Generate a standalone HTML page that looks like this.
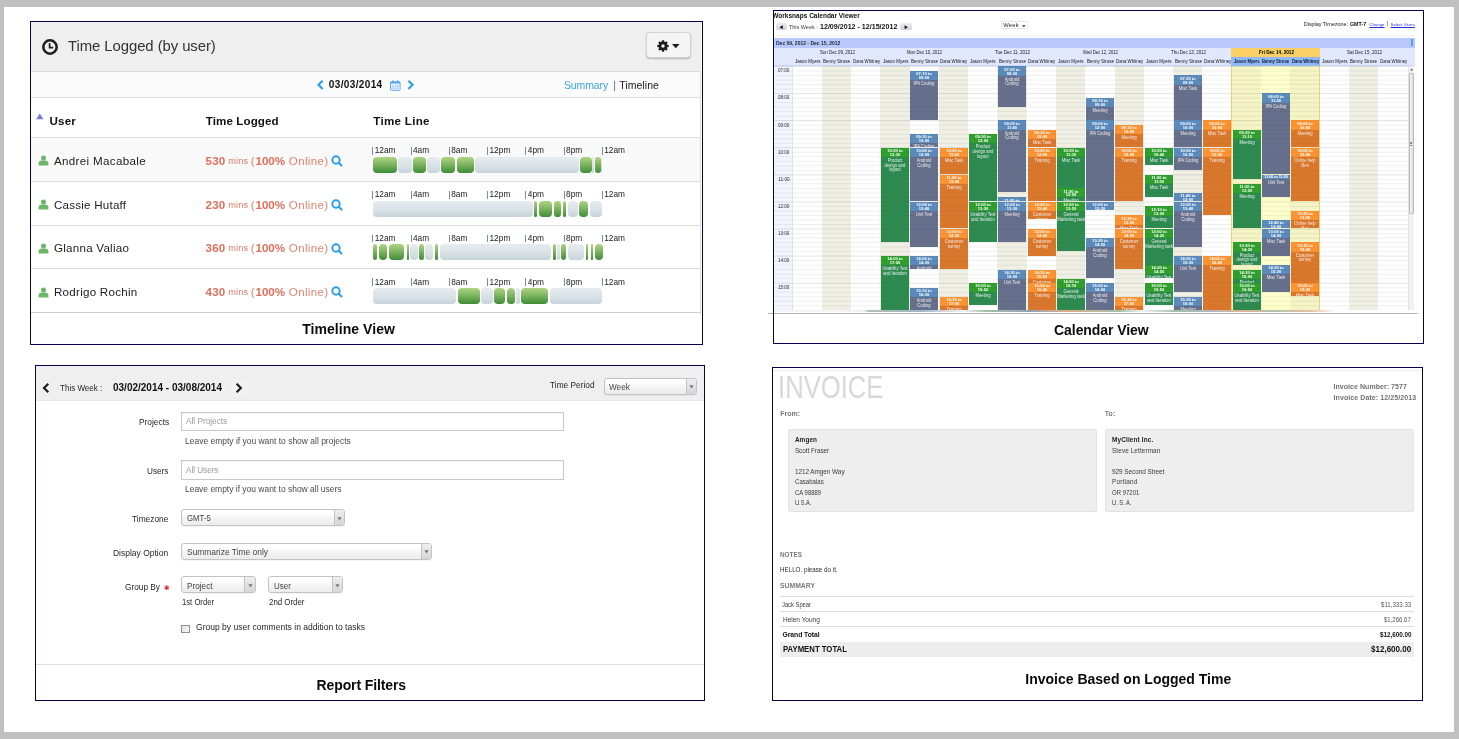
<!DOCTYPE html>
<html lang="en"><head><meta charset="utf-8"><title>Worksnaps views</title>
<style>
html,body{margin:0;padding:0}
body{background:#c0c0c0;width:1459px;height:739px;overflow:hidden;position:relative;font-family:"Liberation Sans", sans-serif}
#root{position:absolute;left:0;top:0;width:1459px;height:739px;overflow:hidden}
#root div,#root svg,#root span.t{position:absolute}
span.t{white-space:nowrap;line-height:1;display:block}
.ev{overflow:hidden}
#root .ev .in{left:0;top:0;width:30.3px;transform:scaleX(.924);transform-origin:0 0}
.ev b,.ev i{display:block;position:static;font-style:normal;text-align:center;color:#fff;line-height:1}
</style></head>
<body><div id="root">
<div style="left:4px;top:7px;width:1450px;height:725px;background:#fff"></div>
<div style="left:31px;top:22px;width:670px;height:49px;background:#efefef"></div>
<div style="left:31px;top:71px;width:670px;height:1px;background:#dcdcdc"></div>
<div style="left:31px;top:72px;width:670px;height:25px;background:#fbfbfb"></div>
<div style="left:31px;top:97px;width:670px;height:1px;background:#dedede"></div>
<div style="left:700px;top:72px;width:1px;height:242px;background:#dedede"></div>
<svg style="left:41px;top:38px;" width="18" height="18" viewBox="0 0 18 18"><circle cx="9" cy="9" r="6.7" fill="none" stroke="#1d1d1d" stroke-width="2.5"/><path d="M8.6 5v4.6h3.6" fill="none" stroke="#1d1d1d" stroke-width="1.7"/></svg>
<span class="t" style="top:39px;font-size:14.9px;color:#333;letter-spacing:-0.08px;left:68.1px;">Time Logged (by user)</span>
<div style="left:646px;top:32px;width:44.7px;height:26.3px;box-sizing:border-box;border:1px solid #d4d4d4;border-radius:4px;background:#f5f5f5;box-shadow:0 1px 1.5px rgba(0,0,0,.25)"></div>
<svg style="left:656.7px;top:39.7px;" width="12" height="12" viewBox="0 0 12 12"><g transform="translate(6 6)" fill="#1d1d1d"><rect x="-1.15" y="-5.7" width="2.3" height="3" transform="rotate(0)"/><rect x="-1.15" y="-5.7" width="2.3" height="3" transform="rotate(45)"/><rect x="-1.15" y="-5.7" width="2.3" height="3" transform="rotate(90)"/><rect x="-1.15" y="-5.7" width="2.3" height="3" transform="rotate(135)"/><rect x="-1.15" y="-5.7" width="2.3" height="3" transform="rotate(180)"/><rect x="-1.15" y="-5.7" width="2.3" height="3" transform="rotate(225)"/><rect x="-1.15" y="-5.7" width="2.3" height="3" transform="rotate(270)"/><rect x="-1.15" y="-5.7" width="2.3" height="3" transform="rotate(315)"/></g><circle cx="6" cy="6" r="3.05" fill="none" stroke="#1d1d1d" stroke-width="2.7"/></svg>
<svg style="left:671.5px;top:43.8px;" width="8" height="5" viewBox="0 0 8 5"><path d="M0 0h7.6L3.8 4.2z" fill="#1d1d1d"/></svg>
<svg style="left:316px;top:79px;" width="9" height="12" viewBox="0 0 9 12"><path d="M6.6 1.7L2.5 5.8l4.1 4.1" fill="none" stroke="#2a9fea" stroke-width="2.15"/></svg>
<span class="t" style="top:80px;font-size:10px;color:#111;font-weight:700;letter-spacing:0.37px;left:328.8px;">03/03/2014</span>
<svg style="left:390px;top:79.5px;" width="11" height="11" viewBox="0 0 11 11"><rect x="0.5" y="1.8" width="9.6" height="8.6" rx="1.2" fill="#f6faff" stroke="#4fa4f3" stroke-width=".9"/><rect x="0.5" y="1.8" width="9.6" height="1.7" fill="#4fa4f3"/><path d="M1 6.1h8.6M1 8.1h8.6M3.1 4.2v6M5.3 4.2v6M7.5 4.2v6" stroke="#9ccbf8" stroke-width=".7"/><rect x="2.2" y="0.2" width="1.6" height="2.8" rx=".7" fill="#4fa4f3"/><rect x="6.8" y="0.2" width="1.6" height="2.8" rx=".7" fill="#4fa4f3"/></svg>
<svg style="left:406px;top:79px;" width="9" height="12" viewBox="0 0 9 12"><path d="M2.4 1.7l4.1 4.1-4.1 4.1" fill="none" stroke="#2a9fea" stroke-width="2.15"/></svg>
<span class="t" style="top:80px;font-size:10.5px;color:#3ba3e6;letter-spacing:-0.11px;left:563.9px;">Summary</span>
<span class="t" style="top:80px;font-size:10.5px;color:#4a6f9a;left:613.2px;">|</span>
<span class="t" style="top:80px;font-size:10.5px;color:#1a1a1a;letter-spacing:0.06px;left:619.2px;">Timeline</span>
<svg style="left:36px;top:113px;" width="8" height="7" viewBox="0 0 8 7"><path d="M3.8 .4L7.5 6.2H.1z" fill="#7a7adb"/></svg>
<span class="t" style="top:115px;font-size:11.6px;color:#111;font-weight:700;letter-spacing:0.14px;left:49.6px;">User</span>
<span class="t" style="top:115px;font-size:11.6px;color:#111;font-weight:700;letter-spacing:0.09px;left:205.8px;">Time Logged</span>
<span class="t" style="top:115px;font-size:11.6px;color:#111;font-weight:700;letter-spacing:0.29px;left:373.3px;">Time Line</span>
<div style="left:31px;top:137px;width:670px;height:1px;background:#dcdcdc"></div>
<div style="left:31px;top:137.8px;width:669px;height:43.2px;background:#f9f9f9"></div>
<div style="left:31px;top:180.7px;width:670px;height:1px;background:#dcdcdc"></div>
<svg style="left:37.5px;top:155.3px;" width="11" height="11" viewBox="0 0 11 11"><circle cx="5.5" cy="3" r="2.5" fill="#6ab76a"/><path d="M.6 10.4V8.2c0-1.6 1.5-2.6 3-2.6h3.8c1.5 0 3 1 3 2.6v2.2z" fill="#6ab76a"/></svg>
<span class="t" style="top:155px;font-size:11.6px;color:#1c1c1c;letter-spacing:0.33px;left:54px;">Andrei Macabale</span>
<span class="t" style="top:155px;font-size:11.6px;color:#df6f5a;font-weight:700;letter-spacing:0.23px;left:205.5px;">530</span>
<span class="t" style="top:157px;font-size:9.2px;color:#e07b69;letter-spacing:0.13px;left:228.2px;">mins</span>
<span class="t" style="top:155px;font-size:11.6px;color:#e07b69;left:250.8px;">(</span>
<span class="t" style="top:155px;font-size:11.6px;color:#df6f5a;font-weight:700;letter-spacing:-0.09px;left:255.6px;">100%</span>
<span class="t" style="top:155px;font-size:11.6px;color:#e5836f;letter-spacing:0.34px;left:288.8px;">Online)</span>
<svg style="left:331.3px;top:155px;" width="12" height="12" viewBox="0 0 12 12"><circle cx="5" cy="5" r="3.7" fill="none" stroke="#2a9fea" stroke-width="1.9"/><path d="M7.9 7.9l2.6 2.6" stroke="#2a9fea" stroke-width="2.1" stroke-linecap="round"/></svg>
<div style="left:372.4px;top:147px;width:0.9px;height:7.8px;background:#7d8d98"></div>
<span class="t" style="top:146px;font-size:8.3px;color:#1a1a1a;letter-spacing:0.01px;left:374.7px;">12am</span>
<div style="left:410.65px;top:147px;width:0.9px;height:7.8px;background:#7d8d98"></div>
<span class="t" style="top:146px;font-size:8.3px;color:#1a1a1a;letter-spacing:0.03px;left:412.95px;">4am</span>
<div style="left:448.9px;top:147px;width:0.9px;height:7.8px;background:#7d8d98"></div>
<span class="t" style="top:146px;font-size:8.3px;color:#1a1a1a;letter-spacing:0.03px;left:451.2px;">8am</span>
<div style="left:487.15px;top:147px;width:0.9px;height:7.8px;background:#7d8d98"></div>
<span class="t" style="top:146px;font-size:8.3px;color:#1a1a1a;letter-spacing:0.04px;left:489.45px;">12pm</span>
<div style="left:525.4px;top:147px;width:0.9px;height:7.8px;background:#7d8d98"></div>
<span class="t" style="top:146px;font-size:8.3px;color:#1a1a1a;letter-spacing:0.08px;left:527.7px;">4pm</span>
<div style="left:563.65px;top:147px;width:0.9px;height:7.8px;background:#7d8d98"></div>
<span class="t" style="top:146px;font-size:8.3px;color:#1a1a1a;letter-spacing:0.08px;left:565.95px;">8pm</span>
<div style="left:601.9px;top:147px;width:0.9px;height:7.8px;background:#7d8d98"></div>
<span class="t" style="top:146px;font-size:8.3px;color:#1a1a1a;letter-spacing:0.01px;left:604.2px;">12am</span>
<div style="left:373px;top:156.8px;width:23.5px;height:16px;border-radius:4px;background:linear-gradient(#aed382,#7fb662 45%,#3d8c35)"></div>
<div style="left:397.5px;top:156.8px;width:14.5px;height:16px;border-radius:4px;background:linear-gradient(#e6ebee,#dbe3e8 50%,#c6d3da)"></div>
<div style="left:413px;top:156.8px;width:12.6px;height:16px;border-radius:4px;background:linear-gradient(#aed382,#7fb662 45%,#3d8c35)"></div>
<div style="left:426.6px;top:156.8px;width:13.4px;height:16px;border-radius:4px;background:linear-gradient(#e6ebee,#dbe3e8 50%,#c6d3da)"></div>
<div style="left:441px;top:156.8px;width:14.2px;height:16px;border-radius:4px;background:linear-gradient(#aed382,#7fb662 45%,#3d8c35)"></div>
<div style="left:457.4px;top:156.8px;width:16.6px;height:16px;border-radius:4px;background:linear-gradient(#aed382,#7fb662 45%,#3d8c35)"></div>
<div style="left:475px;top:156.8px;width:104.3px;height:16px;border-radius:4px;background:linear-gradient(#e6ebee,#dbe3e8 50%,#c6d3da)"></div>
<div style="left:580.3px;top:156.8px;width:11.5px;height:16px;border-radius:4px;background:linear-gradient(#aed382,#7fb662 45%,#3d8c35)"></div>
<div style="left:592.4px;top:156.8px;width:1.8px;height:16px;border-radius:0.9px;background:linear-gradient(#e6ebee,#dbe3e8 50%,#c6d3da)"></div>
<div style="left:594.8px;top:156.8px;width:6px;height:16px;border-radius:3px;background:linear-gradient(#aed382,#7fb662 45%,#3d8c35)"></div>
<div style="left:601px;top:156.8px;width:1.3px;height:16px;border-radius:0.65px;background:linear-gradient(#e6ebee,#dbe3e8 50%,#c6d3da)"></div>
<div style="left:31px;top:224.5px;width:670px;height:1px;background:#dcdcdc"></div>
<svg style="left:37.5px;top:199.1px;" width="11" height="11" viewBox="0 0 11 11"><circle cx="5.5" cy="3" r="2.5" fill="#6ab76a"/><path d="M.6 10.4V8.2c0-1.6 1.5-2.6 3-2.6h3.8c1.5 0 3 1 3 2.6v2.2z" fill="#6ab76a"/></svg>
<span class="t" style="top:199px;font-size:11.6px;color:#1c1c1c;letter-spacing:0.22px;left:54px;">Cassie Hutaff</span>
<span class="t" style="top:199px;font-size:11.6px;color:#df6f5a;font-weight:700;letter-spacing:0.23px;left:205.5px;">230</span>
<span class="t" style="top:201px;font-size:9.2px;color:#e07b69;letter-spacing:0.13px;left:228.2px;">mins</span>
<span class="t" style="top:199px;font-size:11.6px;color:#e07b69;left:250.8px;">(</span>
<span class="t" style="top:199px;font-size:11.6px;color:#df6f5a;font-weight:700;letter-spacing:-0.09px;left:255.6px;">100%</span>
<span class="t" style="top:199px;font-size:11.6px;color:#e5836f;letter-spacing:0.34px;left:288.8px;">Online)</span>
<svg style="left:331.3px;top:198.8px;" width="12" height="12" viewBox="0 0 12 12"><circle cx="5" cy="5" r="3.7" fill="none" stroke="#2a9fea" stroke-width="1.9"/><path d="M7.9 7.9l2.6 2.6" stroke="#2a9fea" stroke-width="2.1" stroke-linecap="round"/></svg>
<div style="left:372.4px;top:190.8px;width:0.9px;height:7.8px;background:#7d8d98"></div>
<span class="t" style="top:190px;font-size:8.3px;color:#1a1a1a;letter-spacing:0.01px;left:374.7px;">12am</span>
<div style="left:410.65px;top:190.8px;width:0.9px;height:7.8px;background:#7d8d98"></div>
<span class="t" style="top:190px;font-size:8.3px;color:#1a1a1a;letter-spacing:0.03px;left:412.95px;">4am</span>
<div style="left:448.9px;top:190.8px;width:0.9px;height:7.8px;background:#7d8d98"></div>
<span class="t" style="top:190px;font-size:8.3px;color:#1a1a1a;letter-spacing:0.03px;left:451.2px;">8am</span>
<div style="left:487.15px;top:190.8px;width:0.9px;height:7.8px;background:#7d8d98"></div>
<span class="t" style="top:190px;font-size:8.3px;color:#1a1a1a;letter-spacing:0.04px;left:489.45px;">12pm</span>
<div style="left:525.4px;top:190.8px;width:0.9px;height:7.8px;background:#7d8d98"></div>
<span class="t" style="top:190px;font-size:8.3px;color:#1a1a1a;letter-spacing:0.08px;left:527.7px;">4pm</span>
<div style="left:563.65px;top:190.8px;width:0.9px;height:7.8px;background:#7d8d98"></div>
<span class="t" style="top:190px;font-size:8.3px;color:#1a1a1a;letter-spacing:0.08px;left:565.95px;">8pm</span>
<div style="left:601.9px;top:190.8px;width:0.9px;height:7.8px;background:#7d8d98"></div>
<span class="t" style="top:190px;font-size:8.3px;color:#1a1a1a;letter-spacing:0.01px;left:604.2px;">12am</span>
<div style="left:373px;top:200.6px;width:159.6px;height:16px;border-radius:4px;background:linear-gradient(#e6ebee,#dbe3e8 50%,#c6d3da)"></div>
<div style="left:534px;top:200.6px;width:3.2px;height:16px;border-radius:1.6px;background:linear-gradient(#aed382,#7fb662 45%,#3d8c35)"></div>
<div style="left:539px;top:200.6px;width:12.5px;height:16px;border-radius:4px;background:linear-gradient(#aed382,#7fb662 45%,#3d8c35)"></div>
<div style="left:554px;top:200.6px;width:6.7px;height:16px;border-radius:3.35px;background:linear-gradient(#aed382,#7fb662 45%,#3d8c35)"></div>
<div style="left:562.7px;top:200.6px;width:3.3px;height:16px;border-radius:1.65px;background:linear-gradient(#aed382,#7fb662 45%,#3d8c35)"></div>
<div style="left:567.8px;top:200.6px;width:10px;height:16px;border-radius:4px;background:linear-gradient(#e6ebee,#dbe3e8 50%,#c6d3da)"></div>
<div style="left:579px;top:200.6px;width:8.8px;height:16px;border-radius:4px;background:linear-gradient(#aed382,#7fb662 45%,#3d8c35)"></div>
<div style="left:589.5px;top:200.6px;width:12.8px;height:16px;border-radius:4px;background:linear-gradient(#e6ebee,#dbe3e8 50%,#c6d3da)"></div>
<div style="left:31px;top:268.3px;width:670px;height:1px;background:#dcdcdc"></div>
<svg style="left:37.5px;top:242.9px;" width="11" height="11" viewBox="0 0 11 11"><circle cx="5.5" cy="3" r="2.5" fill="#6ab76a"/><path d="M.6 10.4V8.2c0-1.6 1.5-2.6 3-2.6h3.8c1.5 0 3 1 3 2.6v2.2z" fill="#6ab76a"/></svg>
<span class="t" style="top:242px;font-size:11.6px;color:#1c1c1c;letter-spacing:0.24px;left:54px;">Glanna Valiao</span>
<span class="t" style="top:242px;font-size:11.6px;color:#df6f5a;font-weight:700;letter-spacing:0.23px;left:205.5px;">360</span>
<span class="t" style="top:244px;font-size:9.2px;color:#e07b69;letter-spacing:0.13px;left:228.2px;">mins</span>
<span class="t" style="top:242px;font-size:11.6px;color:#e07b69;left:250.8px;">(</span>
<span class="t" style="top:242px;font-size:11.6px;color:#df6f5a;font-weight:700;letter-spacing:-0.09px;left:255.6px;">100%</span>
<span class="t" style="top:242px;font-size:11.6px;color:#e5836f;letter-spacing:0.34px;left:288.8px;">Online)</span>
<svg style="left:331.3px;top:242.6px;" width="12" height="12" viewBox="0 0 12 12"><circle cx="5" cy="5" r="3.7" fill="none" stroke="#2a9fea" stroke-width="1.9"/><path d="M7.9 7.9l2.6 2.6" stroke="#2a9fea" stroke-width="2.1" stroke-linecap="round"/></svg>
<div style="left:372.4px;top:234.6px;width:0.9px;height:7.8px;background:#7d8d98"></div>
<span class="t" style="top:234px;font-size:8.3px;color:#1a1a1a;letter-spacing:0.01px;left:374.7px;">12am</span>
<div style="left:410.65px;top:234.6px;width:0.9px;height:7.8px;background:#7d8d98"></div>
<span class="t" style="top:234px;font-size:8.3px;color:#1a1a1a;letter-spacing:0.03px;left:412.95px;">4am</span>
<div style="left:448.9px;top:234.6px;width:0.9px;height:7.8px;background:#7d8d98"></div>
<span class="t" style="top:234px;font-size:8.3px;color:#1a1a1a;letter-spacing:0.03px;left:451.2px;">8am</span>
<div style="left:487.15px;top:234.6px;width:0.9px;height:7.8px;background:#7d8d98"></div>
<span class="t" style="top:234px;font-size:8.3px;color:#1a1a1a;letter-spacing:0.04px;left:489.45px;">12pm</span>
<div style="left:525.4px;top:234.6px;width:0.9px;height:7.8px;background:#7d8d98"></div>
<span class="t" style="top:234px;font-size:8.3px;color:#1a1a1a;letter-spacing:0.08px;left:527.7px;">4pm</span>
<div style="left:563.65px;top:234.6px;width:0.9px;height:7.8px;background:#7d8d98"></div>
<span class="t" style="top:234px;font-size:8.3px;color:#1a1a1a;letter-spacing:0.08px;left:565.95px;">8pm</span>
<div style="left:601.9px;top:234.6px;width:0.9px;height:7.8px;background:#7d8d98"></div>
<span class="t" style="top:234px;font-size:8.3px;color:#1a1a1a;letter-spacing:0.01px;left:604.2px;">12am</span>
<div style="left:373px;top:244.4px;width:4px;height:16px;border-radius:2px;background:linear-gradient(#aed382,#7fb662 45%,#3d8c35)"></div>
<div style="left:378.8px;top:244.4px;width:8.2px;height:16px;border-radius:4px;background:linear-gradient(#aed382,#7fb662 45%,#3d8c35)"></div>
<div style="left:388.8px;top:244.4px;width:15.7px;height:16px;border-radius:4px;background:linear-gradient(#aed382,#7fb662 45%,#3d8c35)"></div>
<div style="left:407px;top:244.4px;width:2px;height:16px;border-radius:1px;background:linear-gradient(#aed382,#7fb662 45%,#3d8c35)"></div>
<div style="left:410px;top:244.4px;width:7.6px;height:16px;border-radius:3.8px;background:linear-gradient(#e6ebee,#dbe3e8 50%,#c6d3da)"></div>
<div style="left:419.3px;top:244.4px;width:4.5px;height:16px;border-radius:2.25px;background:linear-gradient(#aed382,#7fb662 45%,#3d8c35)"></div>
<div style="left:425px;top:244.4px;width:8px;height:16px;border-radius:4px;background:linear-gradient(#e6ebee,#dbe3e8 50%,#c6d3da)"></div>
<div style="left:434.6px;top:244.4px;width:3.4px;height:16px;border-radius:1.7px;background:linear-gradient(#aed382,#7fb662 45%,#3d8c35)"></div>
<div style="left:439.6px;top:244.4px;width:111.9px;height:16px;border-radius:4px;background:linear-gradient(#e6ebee,#dbe3e8 50%,#c6d3da)"></div>
<div style="left:552.7px;top:244.4px;width:3.8px;height:16px;border-radius:1.9px;background:linear-gradient(#aed382,#7fb662 45%,#3d8c35)"></div>
<div style="left:557.3px;top:244.4px;width:2.9px;height:16px;border-radius:1.45px;background:linear-gradient(#e6ebee,#dbe3e8 50%,#c6d3da)"></div>
<div style="left:561px;top:244.4px;width:4.8px;height:16px;border-radius:2.4px;background:linear-gradient(#aed382,#7fb662 45%,#3d8c35)"></div>
<div style="left:567.8px;top:244.4px;width:16.7px;height:16px;border-radius:4px;background:linear-gradient(#e6ebee,#dbe3e8 50%,#c6d3da)"></div>
<div style="left:586.3px;top:244.4px;width:2px;height:16px;border-radius:1px;background:linear-gradient(#aed382,#7fb662 45%,#3d8c35)"></div>
<div style="left:591.3px;top:244.4px;width:1.5px;height:16px;border-radius:0.75px;background:linear-gradient(#aed382,#7fb662 45%,#3d8c35)"></div>
<div style="left:594.8px;top:244.4px;width:8px;height:16px;border-radius:4px;background:linear-gradient(#aed382,#7fb662 45%,#3d8c35)"></div>
<div style="left:31px;top:312.1px;width:670px;height:1px;background:#cfcfcf"></div>
<svg style="left:37.5px;top:286.7px;" width="11" height="11" viewBox="0 0 11 11"><circle cx="5.5" cy="3" r="2.5" fill="#6ab76a"/><path d="M.6 10.4V8.2c0-1.6 1.5-2.6 3-2.6h3.8c1.5 0 3 1 3 2.6v2.2z" fill="#6ab76a"/></svg>
<span class="t" style="top:286px;font-size:11.6px;color:#1c1c1c;letter-spacing:0.25px;left:54px;">Rodrigo Rochin</span>
<span class="t" style="top:286px;font-size:11.6px;color:#df6f5a;font-weight:700;letter-spacing:0.23px;left:205.5px;">430</span>
<span class="t" style="top:288px;font-size:9.2px;color:#e07b69;letter-spacing:0.13px;left:228.2px;">mins</span>
<span class="t" style="top:286px;font-size:11.6px;color:#e07b69;left:250.8px;">(</span>
<span class="t" style="top:286px;font-size:11.6px;color:#df6f5a;font-weight:700;letter-spacing:-0.09px;left:255.6px;">100%</span>
<span class="t" style="top:286px;font-size:11.6px;color:#e5836f;letter-spacing:0.34px;left:288.8px;">Online)</span>
<svg style="left:331.3px;top:286.4px;" width="12" height="12" viewBox="0 0 12 12"><circle cx="5" cy="5" r="3.7" fill="none" stroke="#2a9fea" stroke-width="1.9"/><path d="M7.9 7.9l2.6 2.6" stroke="#2a9fea" stroke-width="2.1" stroke-linecap="round"/></svg>
<div style="left:372.4px;top:278.4px;width:0.9px;height:7.8px;background:#7d8d98"></div>
<span class="t" style="top:278px;font-size:8.3px;color:#1a1a1a;letter-spacing:0.01px;left:374.7px;">12am</span>
<div style="left:410.65px;top:278.4px;width:0.9px;height:7.8px;background:#7d8d98"></div>
<span class="t" style="top:278px;font-size:8.3px;color:#1a1a1a;letter-spacing:0.03px;left:412.95px;">4am</span>
<div style="left:448.9px;top:278.4px;width:0.9px;height:7.8px;background:#7d8d98"></div>
<span class="t" style="top:278px;font-size:8.3px;color:#1a1a1a;letter-spacing:0.03px;left:451.2px;">8am</span>
<div style="left:487.15px;top:278.4px;width:0.9px;height:7.8px;background:#7d8d98"></div>
<span class="t" style="top:278px;font-size:8.3px;color:#1a1a1a;letter-spacing:0.04px;left:489.45px;">12pm</span>
<div style="left:525.4px;top:278.4px;width:0.9px;height:7.8px;background:#7d8d98"></div>
<span class="t" style="top:278px;font-size:8.3px;color:#1a1a1a;letter-spacing:0.08px;left:527.7px;">4pm</span>
<div style="left:563.65px;top:278.4px;width:0.9px;height:7.8px;background:#7d8d98"></div>
<span class="t" style="top:278px;font-size:8.3px;color:#1a1a1a;letter-spacing:0.08px;left:565.95px;">8pm</span>
<div style="left:601.9px;top:278.4px;width:0.9px;height:7.8px;background:#7d8d98"></div>
<span class="t" style="top:278px;font-size:8.3px;color:#1a1a1a;letter-spacing:0.01px;left:604.2px;">12am</span>
<div style="left:373px;top:288.2px;width:83.4px;height:16px;border-radius:4px;background:linear-gradient(#e6ebee,#dbe3e8 50%,#c6d3da)"></div>
<div style="left:457.6px;top:288.2px;width:22.4px;height:16px;border-radius:4px;background:linear-gradient(#aed382,#7fb662 45%,#3d8c35)"></div>
<div style="left:481.4px;top:288.2px;width:11.3px;height:16px;border-radius:4px;background:linear-gradient(#e6ebee,#dbe3e8 50%,#c6d3da)"></div>
<div style="left:494px;top:288.2px;width:11px;height:16px;border-radius:4px;background:linear-gradient(#aed382,#7fb662 45%,#3d8c35)"></div>
<div style="left:507px;top:288.2px;width:7.7px;height:16px;border-radius:3.85px;background:linear-gradient(#aed382,#7fb662 45%,#3d8c35)"></div>
<div style="left:515.7px;top:288.2px;width:4px;height:16px;border-radius:2px;background:linear-gradient(#e6ebee,#dbe3e8 50%,#c6d3da)"></div>
<div style="left:521px;top:288.2px;width:27px;height:16px;border-radius:4px;background:linear-gradient(#aed382,#7fb662 45%,#3d8c35)"></div>
<div style="left:549.5px;top:288.2px;width:52.8px;height:16px;border-radius:4px;background:linear-gradient(#e6ebee,#dbe3e8 50%,#c6d3da)"></div>
<span class="t" style="top:322px;font-size:14px;color:#0a0a0a;font-weight:700;letter-spacing:0.05px;left:302.2px;">Timeline View</span>
<div style="left:30px;top:21px;width:673px;height:324px;box-sizing:border-box;border:1px solid #04044e"></div>
<div style="left:774px;top:11px;width:649px;height:332px;overflow:hidden;">
<span class="t" style="top:2px;font-size:6.5px;color:#111;font-weight:700;letter-spacing:0.01px;left:-1.7px;">Worksnaps Calendar Viewer</span>
<div style="left:1.7px;top:12.4px;width:11.2px;height:6.7px;border-radius:2px;background:linear-gradient(#eceef4,#cfd3df)"></div>
<svg style="left:5px;top:13.6px;" width="4.4" height="4.4" viewBox="0 0 4.4 4.4"><path d="M3.8 .3v3.8L.5 2.2z" fill="#111"/></svg>
<span class="t" style="top:13px;font-size:6.2px;color:#3a3a3a;left:15.3px;transform:scaleX(0.881);transform-origin:0 0;">This Week :</span>
<span class="t" style="top:12px;font-size:7.6px;color:#111;font-weight:700;left:46px;transform:scaleX(0.935);transform-origin:0 0;">12/09/2012 - 12/15/2012</span>
<div style="left:126.2px;top:12.4px;width:11.6px;height:6.7px;border-radius:2px;background:linear-gradient(#eceef4,#cfd3df)"></div>
<svg style="left:130.2px;top:13.6px;" width="4.4" height="4.4" viewBox="0 0 4.4 4.4"><path d="M.6 .3v3.8L3.9 2.2z" fill="#111"/></svg>
<div style="left:227.3px;top:10.2px;width:26.4px;height:7.7px;box-sizing:border-box;border:.7px solid #e6e6ec;border-radius:1px;background:#fff"></div>
<span class="t" style="top:12px;font-size:5.8px;color:#222;letter-spacing:0.29px;left:229.2px;">Week</span>
<svg style="left:247.8px;top:13.5px;" width="4" height="2.2" viewBox="0 0 4 2.2"><path d="M.2 .2h3.4L1.9 1.9z" fill="#111"/></svg>
<span class="t" style="top:11px;font-size:5.5px;color:#222;letter-spacing:-0.05px;left:529.8px;">Display Timezone:</span>
<span class="t" style="top:11px;font-size:5.5px;color:#111;font-weight:700;left:575.8px;transform:scaleX(0.964);transform-origin:0 0;">GMT-7</span>
<span class="t" style="top:12px;font-size:4.2px;color:#2a2ae0;letter-spacing:0.09px;left:595.3px;text-decoration:underline;">Change</span>
<span class="t" style="top:10px;font-size:5.5px;color:#333;left:612.5px;">|</span>
<span class="t" style="top:12px;font-size:4.2px;color:#2a2ae0;letter-spacing:0.05px;left:616.6px;text-decoration:underline;">Select Users</span>
<div style="left:1px;top:24.4px;width:640px;height:1.6px;background:#f5f5f5"></div>
<div style="left:0px;top:27.1px;width:641px;height:9.7px;background:#b9c8fb"></div>
<div style="left:637px;top:27.8px;width:1.6px;height:7px;background:#5b9df2"></div>
<span class="t" style="top:30px;font-size:5.8px;color:#1c2438;font-weight:700;left:1.7px;transform:scaleX(0.861);transform-origin:0 0;">Dec 09, 2012 - Dec 15, 2012</span>
<div style="left:0px;top:36.8px;width:641px;height:18.5px;background:#e1e7fd"></div>
<div style="left:0px;top:54.2px;width:641px;height:1.3px;background:#c9d5fb"></div>
<div style="left:456.8px;top:37.3px;width:88.84px;height:8.8px;background:#fad064"></div>
<div style="left:456.8px;top:46.1px;width:88.84px;height:8.7px;background:#93b9f5"></div>
<span class="t" style="top:39px;font-size:5.3px;color:#15151c;left:45.52px;transform:scaleX(0.825);transform-origin:0 0;">Sun Dec 09, 2012</span>
<span class="t" style="top:48px;font-size:5.2px;color:#15151c;left:20.74px;transform:scaleX(0.871);transform-origin:0 0;">Jason Myers</span>
<span class="t" style="top:48px;font-size:5.2px;color:#15151c;left:49.27px;transform:scaleX(0.87);transform-origin:0 0;">Benny Strose</span>
<span class="t" style="top:48px;font-size:5.2px;color:#15151c;left:78.5px;transform:scaleX(0.835);transform-origin:0 0;">Dana Whitney</span>
<span class="t" style="top:39px;font-size:5.3px;color:#15151c;left:133.36px;transform:scaleX(0.808);transform-origin:0 0;">Mon Dec 10, 2012</span>
<span class="t" style="top:48px;font-size:5.2px;color:#15151c;left:108.58px;transform:scaleX(0.871);transform-origin:0 0;">Jason Myers</span>
<span class="t" style="top:48px;font-size:5.2px;color:#15151c;left:137.11px;transform:scaleX(0.87);transform-origin:0 0;">Benny Strose</span>
<span class="t" style="top:48px;font-size:5.2px;color:#15151c;left:166.34px;transform:scaleX(0.835);transform-origin:0 0;">Dana Whitney</span>
<span class="t" style="top:39px;font-size:5.3px;color:#15151c;left:221.2px;transform:scaleX(0.843);transform-origin:0 0;">Tue Dec 11, 2012</span>
<span class="t" style="top:48px;font-size:5.2px;color:#15151c;left:196.42px;transform:scaleX(0.871);transform-origin:0 0;">Jason Myers</span>
<span class="t" style="top:48px;font-size:5.2px;color:#15151c;left:224.95px;transform:scaleX(0.87);transform-origin:0 0;">Benny Strose</span>
<span class="t" style="top:48px;font-size:5.2px;color:#15151c;left:254.18px;transform:scaleX(0.835);transform-origin:0 0;">Dana Whitney</span>
<span class="t" style="top:39px;font-size:5.3px;color:#15151c;left:309.04px;transform:scaleX(0.799);transform-origin:0 0;">Wed Dec 12, 2012</span>
<span class="t" style="top:48px;font-size:5.2px;color:#15151c;left:284.26px;transform:scaleX(0.871);transform-origin:0 0;">Jason Myers</span>
<span class="t" style="top:48px;font-size:5.2px;color:#15151c;left:312.79px;transform:scaleX(0.87);transform-origin:0 0;">Benny Strose</span>
<span class="t" style="top:48px;font-size:5.2px;color:#15151c;left:342.02px;transform:scaleX(0.835);transform-origin:0 0;">Dana Whitney</span>
<span class="t" style="top:39px;font-size:5.3px;color:#15151c;left:396.88px;transform:scaleX(0.831);transform-origin:0 0;">Thu Dec 13, 2012</span>
<span class="t" style="top:48px;font-size:5.2px;color:#15151c;left:372.1px;transform:scaleX(0.871);transform-origin:0 0;">Jason Myers</span>
<span class="t" style="top:48px;font-size:5.2px;color:#15151c;left:400.63px;transform:scaleX(0.87);transform-origin:0 0;">Benny Strose</span>
<span class="t" style="top:48px;font-size:5.2px;color:#15151c;left:429.86px;transform:scaleX(0.835);transform-origin:0 0;">Dana Whitney</span>
<span class="t" style="top:39px;font-size:5.3px;color:#000;font-weight:700;left:484.72px;transform:scaleX(0.874);transform-origin:0 0;">Fri Dec 14, 2012</span>
<span class="t" style="top:48px;font-size:5.2px;color:#0a1a3a;font-weight:700;left:459.94px;transform:scaleX(0.814);transform-origin:0 0;">Jason Myers</span>
<span class="t" style="top:48px;font-size:5.2px;color:#0a1a3a;font-weight:700;left:488.47px;transform:scaleX(0.81);transform-origin:0 0;">Benny Strose</span>
<span class="t" style="top:48px;font-size:5.2px;color:#0a1a3a;font-weight:700;left:517.7px;transform:scaleX(0.793);transform-origin:0 0;">Dana Whitney</span>
<span class="t" style="top:39px;font-size:5.3px;color:#15151c;left:572.56px;transform:scaleX(0.855);transform-origin:0 0;">Sat Dec 15, 2012</span>
<span class="t" style="top:48px;font-size:5.2px;color:#15151c;left:547.78px;transform:scaleX(0.871);transform-origin:0 0;">Jason Myers</span>
<span class="t" style="top:48px;font-size:5.2px;color:#15151c;left:576.31px;transform:scaleX(0.87);transform-origin:0 0;">Benny Strose</span>
<span class="t" style="top:48px;font-size:5.2px;color:#15151c;left:605.54px;transform:scaleX(0.835);transform-origin:0 0;">Dana Whitney</span>
<div style="left:0px;top:55.3px;width:18.6px;height:243.9px;background:#f2f5fb"></div>
<div style="left:47.78px;top:55.3px;width:29.28px;height:243.9px;background:#efefe4"></div>
<div style="left:106.34px;top:55.3px;width:29.28px;height:243.9px;background:#efefe4"></div>
<div style="left:164.9px;top:55.3px;width:29.28px;height:243.9px;background:#efefe4"></div>
<div style="left:223.46px;top:55.3px;width:29.28px;height:243.9px;background:#efefe4"></div>
<div style="left:282.02px;top:55.3px;width:29.28px;height:243.9px;background:#efefe4"></div>
<div style="left:340.58px;top:55.3px;width:29.28px;height:243.9px;background:#efefe4"></div>
<div style="left:399.14px;top:55.3px;width:29.28px;height:243.9px;background:#efefe4"></div>
<div style="left:457.7px;top:55.3px;width:29.28px;height:243.9px;background:#f4f4c5"></div>
<div style="left:486.98px;top:55.3px;width:29.28px;height:243.9px;background:#ffffcc"></div>
<div style="left:516.26px;top:55.3px;width:29.28px;height:243.9px;background:#f4f4c5"></div>
<div style="left:574.82px;top:55.3px;width:29.28px;height:243.9px;background:#efefe4"></div>
<svg style="left:0px;top:55.3px;" width="634.3" height="243.9" viewBox="0 0 634.3 243.9"><path d="M0 4.97H634.3M0 9.48H634.3M0 14H634.3M0 18.52H634.3M0 23.03H634.3M0 32.07H634.3M0 36.58H634.3M0 41.1H634.3M0 45.62H634.3M0 50.13H634.3M0 59.17H634.3M0 63.68H634.3M0 68.2H634.3M0 72.72H634.3M0 77.23H634.3M0 86.27H634.3M0 90.78H634.3M0 95.3H634.3M0 99.82H634.3M0 104.33H634.3M0 113.37H634.3M0 117.88H634.3M0 122.4H634.3M0 126.92H634.3M0 131.43H634.3M0 140.47H634.3M0 144.98H634.3M0 149.5H634.3M0 154.02H634.3M0 158.53H634.3M0 167.57H634.3M0 172.08H634.3M0 176.6H634.3M0 181.12H634.3M0 185.63H634.3M0 194.67H634.3M0 199.18H634.3M0 203.7H634.3M0 208.22H634.3M0 212.73H634.3M0 221.77H634.3M0 226.28H634.3M0 230.8H634.3M0 235.32H634.3M0 239.83H634.3" stroke="#46465a" stroke-opacity=".06" stroke-width=".9" fill="none"/><path d="M0 0.45H634.3M0 27.55H634.3M0 54.65H634.3M0 81.75H634.3M0 108.85H634.3M0 135.95H634.3M0 163.05H634.3M0 190.15H634.3M0 217.25H634.3M0 244.35H634.3" stroke="#46465a" stroke-opacity=".13" stroke-width=".9" fill="none"/></svg>
<div style="left:18.4px;top:55.3px;width:0.8px;height:243.9px;background:#dfe3ec"></div>
<div style="left:456.8px;top:55.3px;width:1px;height:243.9px;background:#f3cf72"></div>
<div style="left:544.64px;top:55.3px;width:1px;height:243.9px;background:#f3cf72"></div>
<span class="t" style="top:58px;font-size:4.7px;color:#2a2a35;left:4.3px;transform:scaleX(0.963);transform-origin:0 0;">07:00</span>
<span class="t" style="top:85px;font-size:4.7px;color:#2a2a35;left:4.3px;transform:scaleX(0.963);transform-origin:0 0;">08:00</span>
<span class="t" style="top:113px;font-size:4.7px;color:#2a2a35;left:4.3px;transform:scaleX(0.963);transform-origin:0 0;">09:00</span>
<span class="t" style="top:140px;font-size:4.7px;color:#2a2a35;left:4.3px;transform:scaleX(0.963);transform-origin:0 0;">10:00</span>
<span class="t" style="top:167px;font-size:4.7px;color:#2a2a35;letter-spacing:-0.02px;left:4.3px;">11:00</span>
<span class="t" style="top:194px;font-size:4.7px;color:#2a2a35;left:4.3px;transform:scaleX(0.963);transform-origin:0 0;">12:00</span>
<span class="t" style="top:221px;font-size:4.7px;color:#2a2a35;left:4.3px;transform:scaleX(0.963);transform-origin:0 0;">13:00</span>
<span class="t" style="top:248px;font-size:4.7px;color:#2a2a35;left:4.3px;transform:scaleX(0.963);transform-origin:0 0;">14:00</span>
<span class="t" style="top:275px;font-size:4.7px;color:#2a2a35;left:4.3px;transform:scaleX(0.963);transform-origin:0 0;">15:00</span>
</div>
<div style="left:774px;top:66.3px;width:634.3px;height:243.9px;overflow:hidden;">
<div class="ev" style="left:107.14px;top:81.3px;width:28px;height:94.45px;background:#2e8b50"><div class="in"><b style="font-size:4.4px;line-height:3.95px;background:#2f9f2e;padding-top:1.3px">10:00 to<br>13:30</b><i style="font-size:4.6px;line-height:4.75px;padding:2px 0 0;color:rgba(255,255,255,.86)">Product design and layout</i></div></div>
<div class="ev" style="left:107.14px;top:189.7px;width:28px;height:80.9px;background:#2e8b50"><div class="in"><b style="font-size:4.4px;line-height:3.95px;background:#2f9f2e;padding-top:1.3px">14:00 to<br>17:00</b><i style="font-size:4.6px;line-height:4.75px;padding:2px 0 0;color:rgba(255,255,255,.86)">Usability Test and Iteration</i></div></div>
<div class="ev" style="left:136.42px;top:4.52px;width:28px;height:49.28px;background:#666f8b"><div class="in"><b style="font-size:4.4px;line-height:3.95px;background:#5a8bbc;padding-top:1.3px">07:10 to<br>09:00</b><i style="font-size:4.6px;line-height:4.75px;padding:2px 0 0;color:rgba(255,255,255,.86)">IPA Coding</i></div></div>
<div class="ev" style="left:136.42px;top:67.75px;width:28px;height:13.15px;background:#666f8b"><div class="in"><b style="font-size:4.4px;line-height:3.95px;background:#5a8bbc;padding-top:1.3px">09:30 to<br>10:00</b><i style="font-size:4.6px;line-height:4.75px;padding:2px 0 0;color:rgba(255,255,255,.86)">IPA Coding</i></div></div>
<div class="ev" style="left:136.42px;top:81.3px;width:28px;height:53.8px;background:#666f8b"><div class="in"><b style="font-size:4.4px;line-height:3.95px;background:#5a8bbc;padding-top:1.3px">10:00 to<br>12:00</b><i style="font-size:4.6px;line-height:4.75px;padding:2px 0 0;color:rgba(255,255,255,.86)">Android Coding</i></div></div>
<div class="ev" style="left:136.42px;top:135.5px;width:28px;height:44.77px;background:#666f8b"><div class="in"><b style="font-size:4.4px;line-height:3.95px;background:#5a8bbc;padding-top:1.3px">12:00 to<br>13:40</b><i style="font-size:4.6px;line-height:4.75px;padding:2px 0 0;color:rgba(255,255,255,.86)">Unit Test</i></div></div>
<div class="ev" style="left:136.42px;top:189.7px;width:28px;height:13.15px;background:#666f8b"><div class="in"><b style="font-size:4.4px;line-height:3.95px;background:#5a8bbc;padding-top:1.3px">14:00 to<br>14:30</b><i style="font-size:4.6px;line-height:4.75px;padding:2px 0 0;color:rgba(255,255,255,.86)">Android Coding</i></div></div>
<div class="ev" style="left:136.42px;top:221.32px;width:28px;height:35.73px;background:#666f8b"><div class="in"><b style="font-size:4.4px;line-height:3.95px;background:#5a8bbc;padding-top:1.3px">15:10 to<br>16:30</b><i style="font-size:4.6px;line-height:4.75px;padding:2px 0 0;color:rgba(255,255,255,.86)">Android Coding</i></div></div>
<div class="ev" style="left:165.7px;top:81.3px;width:28px;height:26.7px;background:#d9772c"><div class="in"><b style="font-size:4.4px;line-height:3.95px;background:#fb9333;padding-top:1.3px">10:00 to<br>11:00</b><i style="font-size:4.6px;line-height:4.75px;padding:2px 0 0;color:rgba(255,255,255,.86)">Misc Task</i></div></div>
<div class="ev" style="left:165.7px;top:108.4px;width:28px;height:53.8px;background:#d9772c"><div class="in"><b style="font-size:4.4px;line-height:3.95px;background:#fb9333;padding-top:1.3px">11:00 to<br>13:00</b><i style="font-size:4.6px;line-height:4.75px;padding:2px 0 0;color:rgba(255,255,255,.86)">Training</i></div></div>
<div class="ev" style="left:165.7px;top:162.6px;width:28px;height:40.25px;background:#d9772c"><div class="in"><b style="font-size:4.4px;line-height:3.95px;background:#fb9333;padding-top:1.3px">13:00 to<br>14:30</b><i style="font-size:4.6px;line-height:4.75px;padding:2px 0 0;color:rgba(255,255,255,.86)">Customer survey</i></div></div>
<div class="ev" style="left:165.7px;top:230.35px;width:28px;height:40.25px;background:#d9772c"><div class="in"><b style="font-size:4.4px;line-height:3.95px;background:#fb9333;padding-top:1.3px">15:30 to<br>17:00</b><i style="font-size:4.6px;line-height:4.75px;padding:2px 0 0;color:rgba(255,255,255,.86)">Training</i></div></div>
<div class="ev" style="left:194.98px;top:67.75px;width:28px;height:67.35px;background:#2e8b50"><div class="in"><b style="font-size:4.4px;line-height:3.95px;background:#2f9f2e;padding-top:1.3px">09:30 to<br>12:00</b><i style="font-size:4.6px;line-height:4.75px;padding:2px 0 0;color:rgba(255,255,255,.86)">Product design and layout</i></div></div>
<div class="ev" style="left:194.98px;top:135.5px;width:28px;height:40.25px;background:#2e8b50"><div class="in"><b style="font-size:4.4px;line-height:3.95px;background:#2f9f2e;padding-top:1.3px">12:00 to<br>13:30</b><i style="font-size:4.6px;line-height:4.75px;padding:2px 0 0;color:rgba(255,255,255,.86)">Usability Test and Iteration</i></div></div>
<div class="ev" style="left:194.98px;top:216.8px;width:28px;height:22.18px;background:#2e8b50"><div class="in"><b style="font-size:4.4px;line-height:3.95px;background:#2f9f2e;padding-top:1.3px">15:00 to<br>15:50</b><i style="font-size:4.6px;line-height:4.75px;padding:2px 0 0;color:rgba(255,255,255,.86)">Meeting</i></div></div>
<div class="ev" style="left:224.26px;top:0px;width:28px;height:40.25px;background:#666f8b"><div class="in"><b style="font-size:4.4px;line-height:3.95px;background:#5a8bbc;padding-top:1.3px">07:00 to<br>08:30</b><i style="font-size:4.6px;line-height:4.75px;padding:2px 0 0;color:rgba(255,255,255,.86)">Android Coding</i></div></div>
<div class="ev" style="left:224.26px;top:54.2px;width:28px;height:71.87px;background:#666f8b"><div class="in"><b style="font-size:4.4px;line-height:3.95px;background:#5a8bbc;padding-top:1.3px">09:00 to<br>11:40</b><i style="font-size:4.6px;line-height:4.75px;padding:2px 0 0;color:rgba(255,255,255,.86)">Android Coding</i></div></div>
<div class="ev" style="left:224.26px;top:130.98px;width:28px;height:4.12px;background:#666f8b"><div class="in"><b style="font-size:4.4px;line-height:3.95px;background:#5a8bbc;padding-top:1.3px">11:50 to<br>12:00</b><i style="font-size:4.6px;line-height:4.75px;padding:2px 0 0;color:rgba(255,255,255,.86)">Meeting</i></div></div>
<div class="ev" style="left:224.26px;top:135.5px;width:28px;height:40.25px;background:#666f8b"><div class="in"><b style="font-size:4.4px;line-height:3.95px;background:#5a8bbc;padding-top:1.3px">12:00 to<br>13:30</b><i style="font-size:4.6px;line-height:4.75px;padding:2px 0 0;color:rgba(255,255,255,.86)">Meeting</i></div></div>
<div class="ev" style="left:224.26px;top:203.25px;width:28px;height:40.25px;background:#666f8b"><div class="in"><b style="font-size:4.4px;line-height:3.95px;background:#5a8bbc;padding-top:1.3px">14:30 to<br>16:00</b><i style="font-size:4.6px;line-height:4.75px;padding:2px 0 0;color:rgba(255,255,255,.86)">Unit Test</i></div></div>
<div class="ev" style="left:253.54px;top:63.23px;width:28px;height:17.67px;background:#d9772c"><div class="in"><b style="font-size:4.4px;line-height:3.95px;background:#fb9333;padding-top:1.3px">09:20 to<br>10:00</b><i style="font-size:4.6px;line-height:4.75px;padding:2px 0 0;color:rgba(255,255,255,.86)">Misc Task</i></div></div>
<div class="ev" style="left:253.54px;top:81.3px;width:28px;height:53.8px;background:#d9772c"><div class="in"><b style="font-size:4.4px;line-height:3.95px;background:#fb9333;padding-top:1.3px">10:00 to<br>12:00</b><i style="font-size:4.6px;line-height:4.75px;padding:2px 0 0;color:rgba(255,255,255,.86)">Training</i></div></div>
<div class="ev" style="left:253.54px;top:135.5px;width:28px;height:17.67px;background:#d9772c"><div class="in"><b style="font-size:4.4px;line-height:3.95px;background:#fb9333;padding-top:1.3px">12:00 to<br>12:40</b><i style="font-size:4.6px;line-height:4.75px;padding:2px 0 0;color:rgba(255,255,255,.86)">Customer survey</i></div></div>
<div class="ev" style="left:253.54px;top:162.6px;width:28px;height:26.7px;background:#d9772c"><div class="in"><b style="font-size:4.4px;line-height:3.95px;background:#fb9333;padding-top:1.3px">13:00 to<br>14:00</b><i style="font-size:4.6px;line-height:4.75px;padding:2px 0 0;color:rgba(255,255,255,.86)">Customer survey</i></div></div>
<div class="ev" style="left:253.54px;top:203.25px;width:28px;height:13.15px;background:#d9772c"><div class="in"><b style="font-size:4.4px;line-height:3.95px;background:#fb9333;padding-top:1.3px">14:30 to<br>15:00</b><i style="font-size:4.6px;line-height:4.75px;padding:2px 0 0;color:rgba(255,255,255,.86)">Customer survey</i></div></div>
<div class="ev" style="left:253.54px;top:216.8px;width:28px;height:44.77px;background:#d9772c"><div class="in"><b style="font-size:4.4px;line-height:3.95px;background:#fb9333;padding-top:1.3px">15:00 to<br>16:40</b><i style="font-size:4.6px;line-height:4.75px;padding:2px 0 0;color:rgba(255,255,255,.86)">Training</i></div></div>
<div class="ev" style="left:282.82px;top:81.3px;width:28px;height:40.25px;background:#2e8b50"><div class="in"><b style="font-size:4.4px;line-height:3.95px;background:#2f9f2e;padding-top:1.3px">10:00 to<br>11:30</b><i style="font-size:4.6px;line-height:4.75px;padding:2px 0 0;color:rgba(255,255,255,.86)">Misc Task</i></div></div>
<div class="ev" style="left:282.82px;top:121.95px;width:28px;height:13.15px;background:#2e8b50"><div class="in"><b style="font-size:4.4px;line-height:3.95px;background:#2f9f2e;padding-top:1.3px">11:30 to<br>12:00</b><i style="font-size:4.6px;line-height:4.75px;padding:2px 0 0;color:rgba(255,255,255,.86)">Meeting</i></div></div>
<div class="ev" style="left:282.82px;top:135.5px;width:28px;height:49.28px;background:#2e8b50"><div class="in"><b style="font-size:4.4px;line-height:3.95px;background:#2f9f2e;padding-top:1.3px">12:00 to<br>13:50</b><i style="font-size:4.6px;line-height:4.75px;padding:2px 0 0;color:rgba(255,255,255,.86)">General Marketing task</i></div></div>
<div class="ev" style="left:282.82px;top:212.28px;width:28px;height:35.73px;background:#2e8b50"><div class="in"><b style="font-size:4.4px;line-height:3.95px;background:#2f9f2e;padding-top:1.3px">14:50 to<br>16:10</b><i style="font-size:4.6px;line-height:4.75px;padding:2px 0 0;color:rgba(255,255,255,.86)">General Marketing task</i></div></div>
<div class="ev" style="left:312.1px;top:31.62px;width:28px;height:22.18px;background:#666f8b"><div class="in"><b style="font-size:4.4px;line-height:3.95px;background:#5a8bbc;padding-top:1.3px">08:10 to<br>09:00</b><i style="font-size:4.6px;line-height:4.75px;padding:2px 0 0;color:rgba(255,255,255,.86)">Meeting</i></div></div>
<div class="ev" style="left:312.1px;top:54.2px;width:28px;height:80.9px;background:#666f8b"><div class="in"><b style="font-size:4.4px;line-height:3.95px;background:#5a8bbc;padding-top:1.3px">09:00 to<br>12:00</b><i style="font-size:4.6px;line-height:4.75px;padding:2px 0 0;color:rgba(255,255,255,.86)">IPA Coding</i></div></div>
<div class="ev" style="left:312.1px;top:135.5px;width:28px;height:8.63px;background:#666f8b"><div class="in"><b style="font-size:4.4px;line-height:3.95px;background:#5a8bbc;padding-top:1.3px">12:00 to<br>12:20</b><i style="font-size:4.6px;line-height:4.75px;padding:2px 0 0;color:rgba(255,255,255,.86)">Meeting</i></div></div>
<div class="ev" style="left:312.1px;top:171.63px;width:28px;height:40.25px;background:#666f8b"><div class="in"><b style="font-size:4.4px;line-height:3.95px;background:#5a8bbc;padding-top:1.3px">13:20 to<br>14:50</b><i style="font-size:4.6px;line-height:4.75px;padding:2px 0 0;color:rgba(255,255,255,.86)">Android Coding</i></div></div>
<div class="ev" style="left:312.1px;top:216.8px;width:28px;height:26.7px;background:#666f8b"><div class="in"><b style="font-size:4.4px;line-height:3.95px;background:#5a8bbc;padding-top:1.3px">15:00 to<br>16:00</b><i style="font-size:4.6px;line-height:4.75px;padding:2px 0 0;color:rgba(255,255,255,.86)">Android Coding</i></div></div>
<div class="ev" style="left:341.38px;top:58.72px;width:28px;height:22.18px;background:#d9772c"><div class="in"><b style="font-size:4.4px;line-height:3.95px;background:#fb9333;padding-top:1.3px">09:10 to<br>10:00</b><i style="font-size:4.6px;line-height:4.75px;padding:2px 0 0;color:rgba(255,255,255,.86)">Meeting</i></div></div>
<div class="ev" style="left:341.38px;top:81.3px;width:28px;height:53.8px;background:#d9772c"><div class="in"><b style="font-size:4.4px;line-height:3.95px;background:#fb9333;padding-top:1.3px">10:00 to<br>12:00</b><i style="font-size:4.6px;line-height:4.75px;padding:2px 0 0;color:rgba(255,255,255,.86)">Training</i></div></div>
<div class="ev" style="left:341.38px;top:149.05px;width:28px;height:13.15px;background:#d9772c"><div class="in"><b style="font-size:4.4px;line-height:3.95px;background:#fb9333;padding-top:1.3px">12:30 to<br>13:00</b><i style="font-size:4.6px;line-height:4.75px;padding:2px 0 0;color:rgba(255,255,255,.86)">Misc Task</i></div></div>
<div class="ev" style="left:341.38px;top:162.6px;width:28px;height:40.25px;background:#d9772c"><div class="in"><b style="font-size:4.4px;line-height:3.95px;background:#fb9333;padding-top:1.3px">13:00 to<br>14:30</b><i style="font-size:4.6px;line-height:4.75px;padding:2px 0 0;color:rgba(255,255,255,.86)">Customer survey</i></div></div>
<div class="ev" style="left:341.38px;top:230.35px;width:28px;height:40.25px;background:#d9772c"><div class="in"><b style="font-size:4.4px;line-height:3.95px;background:#fb9333;padding-top:1.3px">15:30 to<br>17:00</b><i style="font-size:4.6px;line-height:4.75px;padding:2px 0 0;color:rgba(255,255,255,.86)">Training</i></div></div>
<div class="ev" style="left:370.66px;top:81.3px;width:28px;height:17.67px;background:#2e8b50"><div class="in"><b style="font-size:4.4px;line-height:3.95px;background:#2f9f2e;padding-top:1.3px">10:00 to<br>10:40</b><i style="font-size:4.6px;line-height:4.75px;padding:2px 0 0;color:rgba(255,255,255,.86)">Misc Task</i></div></div>
<div class="ev" style="left:370.66px;top:108.4px;width:28px;height:22.18px;background:#2e8b50"><div class="in"><b style="font-size:4.4px;line-height:3.95px;background:#2f9f2e;padding-top:1.3px">11:00 to<br>11:50</b><i style="font-size:4.6px;line-height:4.75px;padding:2px 0 0;color:rgba(255,255,255,.86)">Misc Task</i></div></div>
<div class="ev" style="left:370.66px;top:140.02px;width:28px;height:22.18px;background:#2e8b50"><div class="in"><b style="font-size:4.4px;line-height:3.95px;background:#2f9f2e;padding-top:1.3px">12:10 to<br>13:00</b><i style="font-size:4.6px;line-height:4.75px;padding:2px 0 0;color:rgba(255,255,255,.86)">Meeting</i></div></div>
<div class="ev" style="left:370.66px;top:162.6px;width:28px;height:35.73px;background:#2e8b50"><div class="in"><b style="font-size:4.4px;line-height:3.95px;background:#2f9f2e;padding-top:1.3px">13:00 to<br>14:20</b><i style="font-size:4.6px;line-height:4.75px;padding:2px 0 0;color:rgba(255,255,255,.86)">General Marketing task</i></div></div>
<div class="ev" style="left:370.66px;top:198.73px;width:28px;height:13.15px;background:#2e8b50"><div class="in"><b style="font-size:4.4px;line-height:3.95px;background:#2f9f2e;padding-top:1.3px">14:20 to<br>14:50</b><i style="font-size:4.6px;line-height:4.75px;padding:2px 0 0;color:rgba(255,255,255,.86)">Usability Test</i></div></div>
<div class="ev" style="left:370.66px;top:216.8px;width:28px;height:22.18px;background:#2e8b50"><div class="in"><b style="font-size:4.4px;line-height:3.95px;background:#2f9f2e;padding-top:1.3px">15:00 to<br>15:50</b><i style="font-size:4.6px;line-height:4.75px;padding:2px 0 0;color:rgba(255,255,255,.86)">Usability Test and Iteration</i></div></div>
<div class="ev" style="left:399.94px;top:9.03px;width:28px;height:44.77px;background:#666f8b"><div class="in"><b style="font-size:4.4px;line-height:3.95px;background:#5a8bbc;padding-top:1.3px">07:20 to<br>09:00</b><i style="font-size:4.6px;line-height:4.75px;padding:2px 0 0;color:rgba(255,255,255,.86)">Misc Task</i></div></div>
<div class="ev" style="left:399.94px;top:54.2px;width:28px;height:26.7px;background:#666f8b"><div class="in"><b style="font-size:4.4px;line-height:3.95px;background:#5a8bbc;padding-top:1.3px">09:00 to<br>10:00</b><i style="font-size:4.6px;line-height:4.75px;padding:2px 0 0;color:rgba(255,255,255,.86)">Meeting</i></div></div>
<div class="ev" style="left:399.94px;top:81.3px;width:28px;height:22.18px;background:#666f8b"><div class="in"><b style="font-size:4.4px;line-height:3.95px;background:#5a8bbc;padding-top:1.3px">10:00 to<br>10:50</b><i style="font-size:4.6px;line-height:4.75px;padding:2px 0 0;color:rgba(255,255,255,.86)">IPA Coding</i></div></div>
<div class="ev" style="left:399.94px;top:126.47px;width:28px;height:8.63px;background:#666f8b"><div class="in"><b style="font-size:4.4px;line-height:3.95px;background:#5a8bbc;padding-top:1.3px">11:40 to<br>12:00</b><i style="font-size:4.6px;line-height:4.75px;padding:2px 0 0;color:rgba(255,255,255,.86)">Meeting</i></div></div>
<div class="ev" style="left:399.94px;top:135.5px;width:28px;height:44.77px;background:#666f8b"><div class="in"><b style="font-size:4.4px;line-height:3.95px;background:#5a8bbc;padding-top:1.3px">12:00 to<br>13:40</b><i style="font-size:4.6px;line-height:4.75px;padding:2px 0 0;color:rgba(255,255,255,.86)">Android Coding</i></div></div>
<div class="ev" style="left:399.94px;top:189.7px;width:28px;height:35.73px;background:#666f8b"><div class="in"><b style="font-size:4.4px;line-height:3.95px;background:#5a8bbc;padding-top:1.3px">14:00 to<br>15:20</b><i style="font-size:4.6px;line-height:4.75px;padding:2px 0 0;color:rgba(255,255,255,.86)">Unit Test</i></div></div>
<div class="ev" style="left:399.94px;top:230.35px;width:28px;height:13.15px;background:#666f8b"><div class="in"><b style="font-size:4.4px;line-height:3.95px;background:#5a8bbc;padding-top:1.3px">15:30 to<br>16:00</b><i style="font-size:4.6px;line-height:4.75px;padding:2px 0 0;color:rgba(255,255,255,.86)">Meeting</i></div></div>
<div class="ev" style="left:429.22px;top:54.2px;width:28px;height:26.7px;background:#d9772c"><div class="in"><b style="font-size:4.4px;line-height:3.95px;background:#fb9333;padding-top:1.3px">09:00 to<br>10:00</b><i style="font-size:4.6px;line-height:4.75px;padding:2px 0 0;color:rgba(255,255,255,.86)">Misc Task</i></div></div>
<div class="ev" style="left:429.22px;top:81.3px;width:28px;height:67.35px;background:#d9772c"><div class="in"><b style="font-size:4.4px;line-height:3.95px;background:#fb9333;padding-top:1.3px">10:00 to<br>12:30</b><i style="font-size:4.6px;line-height:4.75px;padding:2px 0 0;color:rgba(255,255,255,.86)">Training</i></div></div>
<div class="ev" style="left:429.22px;top:189.7px;width:28px;height:53.8px;background:#d9772c"><div class="in"><b style="font-size:4.4px;line-height:3.95px;background:#fb9333;padding-top:1.3px">14:00 to<br>16:00</b><i style="font-size:4.6px;line-height:4.75px;padding:2px 0 0;color:rgba(255,255,255,.86)">Training</i></div></div>
<div class="ev" style="left:458.5px;top:63.23px;width:28px;height:49.28px;background:#2e8b50"><div class="in"><b style="font-size:4.4px;line-height:3.95px;background:#2f9f2e;padding-top:1.3px">09:20 to<br>11:10</b><i style="font-size:4.6px;line-height:4.75px;padding:2px 0 0;color:rgba(255,255,255,.86)">Meeting</i></div></div>
<div class="ev" style="left:458.5px;top:117.43px;width:28px;height:44.77px;background:#2e8b50"><div class="in"><b style="font-size:4.4px;line-height:3.95px;background:#2f9f2e;padding-top:1.3px">11:20 to<br>13:00</b><i style="font-size:4.6px;line-height:4.75px;padding:2px 0 0;color:rgba(255,255,255,.86)">Meeting</i></div></div>
<div class="ev" style="left:458.5px;top:176.15px;width:28px;height:22.18px;background:#2e8b50"><div class="in"><b style="font-size:4.4px;line-height:3.95px;background:#2f9f2e;padding-top:1.3px">13:30 to<br>14:20</b><i style="font-size:4.6px;line-height:4.75px;padding:2px 0 0;color:rgba(255,255,255,.86)">Product design and layout</i></div></div>
<div class="ev" style="left:458.5px;top:203.25px;width:28px;height:13.15px;background:#2e8b50"><div class="in"><b style="font-size:4.4px;line-height:3.95px;background:#2f9f2e;padding-top:1.3px">14:30 to<br>15:00</b><i style="font-size:4.6px;line-height:4.75px;padding:2px 0 0;color:rgba(255,255,255,.86)">Product design</i></div></div>
<div class="ev" style="left:458.5px;top:216.8px;width:28px;height:26.7px;background:#2e8b50"><div class="in"><b style="font-size:4.4px;line-height:3.95px;background:#2f9f2e;padding-top:1.3px">15:00 to<br>16:00</b><i style="font-size:4.6px;line-height:4.75px;padding:2px 0 0;color:rgba(255,255,255,.86)">Usability Test and Iteration</i></div></div>
<div class="ev" style="left:487.78px;top:27.1px;width:28px;height:80.9px;background:#666f8b"><div class="in"><b style="font-size:4.4px;line-height:3.95px;background:#5a8bbc;padding-top:1.3px">08:00 to<br>11:00</b><i style="font-size:4.6px;line-height:4.75px;padding:2px 0 0;color:rgba(255,255,255,.86)">IPA Coding</i></div></div>
<div class="ev" style="left:487.78px;top:108.4px;width:28px;height:22.18px;background:#666f8b"><div class="in"><b style="font-size:4.1px;line-height:4.7px;background:#5a8bbc;letter-spacing:-.1px">11:00 to 11:50</b><i style="font-size:4.6px;line-height:4.75px;padding:2px 0 0;color:rgba(255,255,255,.86)">Unit Test</i></div></div>
<div class="ev" style="left:487.78px;top:153.57px;width:28px;height:8.63px;background:#666f8b"><div class="in"><b style="font-size:4.4px;line-height:3.95px;background:#5a8bbc;padding-top:1.3px">12:40 to<br>13:00</b><i style="font-size:4.6px;line-height:4.75px;padding:2px 0 0;color:rgba(255,255,255,.86)">Misc Task</i></div></div>
<div class="ev" style="left:487.78px;top:162.6px;width:28px;height:26.7px;background:#666f8b"><div class="in"><b style="font-size:4.4px;line-height:3.95px;background:#5a8bbc;padding-top:1.3px">13:00 to<br>14:00</b><i style="font-size:4.6px;line-height:4.75px;padding:2px 0 0;color:rgba(255,255,255,.86)">Misc Task</i></div></div>
<div class="ev" style="left:487.78px;top:198.73px;width:28px;height:26.7px;background:#666f8b"><div class="in"><b style="font-size:4.4px;line-height:3.95px;background:#5a8bbc;padding-top:1.3px">14:20 to<br>15:20</b><i style="font-size:4.6px;line-height:4.75px;padding:2px 0 0;color:rgba(255,255,255,.86)">Misc Task</i></div></div>
<div class="ev" style="left:517.06px;top:54.2px;width:28px;height:26.7px;background:#d9772c"><div class="in"><b style="font-size:4.4px;line-height:3.95px;background:#fb9333;padding-top:1.3px">09:00 to<br>10:00</b><i style="font-size:4.6px;line-height:4.75px;padding:2px 0 0;color:rgba(255,255,255,.86)">Meeting</i></div></div>
<div class="ev" style="left:517.06px;top:81.3px;width:28px;height:53.8px;background:#d9772c"><div class="in"><b style="font-size:4.4px;line-height:3.95px;background:#fb9333;padding-top:1.3px">10:00 to<br>12:00</b><i style="font-size:4.6px;line-height:4.75px;padding:2px 0 0;color:rgba(255,255,255,.86)">Online help files</i></div></div>
<div class="ev" style="left:517.06px;top:144.53px;width:28px;height:17.67px;background:#d9772c"><div class="in"><b style="font-size:4.4px;line-height:3.95px;background:#fb9333;padding-top:1.3px">12:20 to<br>13:00</b><i style="font-size:4.6px;line-height:4.75px;padding:2px 0 0;color:rgba(255,255,255,.86)">Online help files</i></div></div>
<div class="ev" style="left:517.06px;top:176.15px;width:28px;height:40.25px;background:#d9772c"><div class="in"><b style="font-size:4.4px;line-height:3.95px;background:#fb9333;padding-top:1.3px">13:30 to<br>15:00</b><i style="font-size:4.6px;line-height:4.75px;padding:2px 0 0;color:rgba(255,255,255,.86)">Customer survey</i></div></div>
<div class="ev" style="left:517.06px;top:216.8px;width:28px;height:13.15px;background:#d9772c"><div class="in"><b style="font-size:4.4px;line-height:3.95px;background:#fb9333;padding-top:1.3px">15:00 to<br>15:30</b><i style="font-size:4.6px;line-height:4.75px;padding:2px 0 0;color:rgba(255,255,255,.86)">Misc Task</i></div></div>
<svg style="left:0px;top:0px;" width="634.3" height="243.9" viewBox="0 0 634.3 243.9"><path d="M0 4.97H634.3M0 9.48H634.3M0 14H634.3M0 18.52H634.3M0 23.03H634.3M0 32.07H634.3M0 36.58H634.3M0 41.1H634.3M0 45.62H634.3M0 50.13H634.3M0 59.17H634.3M0 63.68H634.3M0 68.2H634.3M0 72.72H634.3M0 77.23H634.3M0 86.27H634.3M0 90.78H634.3M0 95.3H634.3M0 99.82H634.3M0 104.33H634.3M0 113.37H634.3M0 117.88H634.3M0 122.4H634.3M0 126.92H634.3M0 131.43H634.3M0 140.47H634.3M0 144.98H634.3M0 149.5H634.3M0 154.02H634.3M0 158.53H634.3M0 167.57H634.3M0 172.08H634.3M0 176.6H634.3M0 181.12H634.3M0 185.63H634.3M0 194.67H634.3M0 199.18H634.3M0 203.7H634.3M0 208.22H634.3M0 212.73H634.3M0 221.77H634.3M0 226.28H634.3M0 230.8H634.3M0 235.32H634.3M0 239.83H634.3M0 0.45H634.3M0 27.55H634.3M0 54.65H634.3M0 81.75H634.3M0 108.85H634.3M0 135.95H634.3M0 163.05H634.3M0 190.15H634.3M0 217.25H634.3M0 244.35H634.3" stroke="#000" stroke-opacity=".04" stroke-width=".8" fill="none"/></svg>
</div>
<div style="left:1408.3px;top:66.3px;width:6px;height:243.9px;background:#f1f1f1;border-left:.5px solid #e2e2e2;box-sizing:border-box"></div>
<div style="left:1409px;top:73px;width:4.6px;height:141px;box-sizing:border-box;border:.6px solid #bdbdbd;border-radius:1px;background:linear-gradient(90deg,#f4f4f4,#dcdcdc)"></div>
<svg style="left:1409.6px;top:68.3px;" width="3.4" height="3" viewBox="0 0 3.4 3"><path d="M1.7 .4L3.2 2.6H.2z" fill="#555"/></svg>
<div style="left:1410.2px;top:142px;width:2.2px;height:0.6px;background:#888"></div>
<div style="left:1410.2px;top:143.4px;width:2.2px;height:0.6px;background:#888"></div>
<div style="left:1410.2px;top:144.8px;width:2.2px;height:0.6px;background:#888"></div>
<div style="left:774px;top:310.2px;width:558px;height:1.6px;background:linear-gradient(90deg,#f4f4f4 0,#f0f0f0 16%,#9cb3a0 17%,#8da0b8 26%,#f0f0f0 34%,#86b294 38%,#7f8aa0 46%,#d69a6a 52%,#8bb596 62%,#f0f0f0 66%,#89b092 72%,#a0a4b0 78%,#d9a478 84%,#9ab79d 90%,#e0b088 96%,#f2f2f2 100%);opacity:.8"></div>
<div style="left:768px;top:312.6px;width:650px;height:1px;background:#b3b3b3"></div>
<span class="t" style="top:323px;font-size:14px;color:#0a0a0a;font-weight:700;letter-spacing:-0.08px;left:1054.1px;">Calendar View</span>
<div style="left:773px;top:10px;width:651px;height:334px;box-sizing:border-box;border:1px solid #04044e"></div>
<div style="left:36px;top:366px;width:668px;height:35px;background:#efefef"></div>
<div style="left:36px;top:400px;width:668px;height:1px;background:#e9e9e9"></div>
<svg style="left:41px;top:382px;" width="10" height="12" viewBox="0 0 10 12"><path d="M7.3 1.8L3 6l4.3 4.2" fill="none" stroke="#1a1a1a" stroke-width="2.1"/></svg>
<span class="t" style="top:384px;font-size:9.1px;color:#262626;left:60.1px;transform:scaleX(0.884);transform-origin:0 0;">This Week :</span>
<span class="t" style="top:382px;font-size:10.6px;color:#111;font-weight:700;left:112.5px;transform:scaleX(0.944);transform-origin:0 0;">03/02/2014 - 03/08/2014</span>
<div style="left:230px;top:379px;width:17px;height:17px;background:#f1f1f1"></div>
<svg style="left:233.5px;top:382px;" width="10" height="12" viewBox="0 0 10 12"><path d="M2.6 1.8L6.9 6l-4.3 4.2" fill="none" stroke="#1a1a1a" stroke-width="2.1"/></svg>
<span class="t" style="top:381px;font-size:9.1px;color:#262626;left:550.2px;transform:scaleX(0.916);transform-origin:0 0;">Time Period</span>
<div style="left:604px;top:377.5px;width:92.7px;height:17px;box-sizing:border-box;border:1px solid #c3c3c3;border-radius:3px;background:linear-gradient(#fff 20%,#f3f3f3 60%,#ececec);box-shadow:0 1px 0 rgba(0,0,0,.04)"></div>
<div style="left:686px;top:378.5px;width:9.7px;height:15px;box-sizing:border-box;border-left:1px solid #c3c3c3;border-radius:0 2px 2px 0;background:linear-gradient(#eee,#d6d6d6)"></div>
<svg style="left:688.95px;top:385px;" width="5" height="4" viewBox="0 0 5 4"><path d="M.3 .3h4.4L2.5 3.6z" fill="#777"/></svg>
<span class="t" style="top:383px;font-size:9.2px;color:#444;left:609px;transform:scaleX(0.892);transform-origin:0 0;">Week</span>
<span class="t" style="top:418px;font-size:9.1px;color:#262626;left:138.5px;transform:scaleX(0.919);transform-origin:0 0;">Projects</span>
<div style="left:181px;top:411.5px;width:382.5px;height:19.3px;box-sizing:border-box;border:1px solid #c8c8c8;background:#fff;box-shadow:inset 0 1px 1px rgba(0,0,0,.06)"></div>
<span class="t" style="top:416px;font-size:9.6px;color:#9a9a9a;left:185.6px;transform:scaleX(0.859);transform-origin:0 0;">All Projects</span>
<span class="t" style="top:437px;font-size:9.1px;color:#4a4a4a;left:184.5px;transform:scaleX(0.932);transform-origin:0 0;">Leave empty if you want to show all projects</span>
<span class="t" style="top:467px;font-size:9.1px;color:#262626;left:147.3px;transform:scaleX(0.901);transform-origin:0 0;">Users</span>
<div style="left:181px;top:460.4px;width:382.5px;height:19.3px;box-sizing:border-box;border:1px solid #c8c8c8;background:#fff;box-shadow:inset 0 1px 1px rgba(0,0,0,.06)"></div>
<span class="t" style="top:465px;font-size:9.6px;color:#9a9a9a;left:185.6px;transform:scaleX(0.844);transform-origin:0 0;">All Users</span>
<span class="t" style="top:485px;font-size:9.1px;color:#4a4a4a;left:184.5px;transform:scaleX(0.93);transform-origin:0 0;">Leave empty if you want to show all users</span>
<span class="t" style="top:515px;font-size:9.1px;color:#262626;left:132.2px;transform:scaleX(0.917);transform-origin:0 0;">Timezone</span>
<div style="left:181.2px;top:509px;width:164.1px;height:17px;box-sizing:border-box;border:1px solid #c3c3c3;border-radius:3px;background:linear-gradient(#fff 20%,#f3f3f3 60%,#ececec);box-shadow:0 1px 0 rgba(0,0,0,.04)"></div>
<div style="left:333.6px;top:510px;width:10.7px;height:15px;box-sizing:border-box;border-left:1px solid #c3c3c3;border-radius:0 2px 2px 0;background:linear-gradient(#eee,#d6d6d6)"></div>
<svg style="left:337.05px;top:516.5px;" width="5" height="4" viewBox="0 0 5 4"><path d="M.3 .3h4.4L2.5 3.6z" fill="#777"/></svg>
<span class="t" style="top:514px;font-size:9.2px;color:#444;left:187.2px;transform:scaleX(0.848);transform-origin:0 0;">GMT-5</span>
<span class="t" style="top:549px;font-size:9.1px;color:#262626;left:113.4px;transform:scaleX(0.932);transform-origin:0 0;">Display Option</span>
<div style="left:181.2px;top:542.5px;width:250.7px;height:17px;box-sizing:border-box;border:1px solid #c3c3c3;border-radius:3px;background:linear-gradient(#fff 20%,#f3f3f3 60%,#ececec);box-shadow:0 1px 0 rgba(0,0,0,.04)"></div>
<div style="left:421px;top:543.5px;width:9.9px;height:15px;box-sizing:border-box;border-left:1px solid #c3c3c3;border-radius:0 2px 2px 0;background:linear-gradient(#eee,#d6d6d6)"></div>
<svg style="left:424.05px;top:550px;" width="5" height="4" viewBox="0 0 5 4"><path d="M.3 .3h4.4L2.5 3.6z" fill="#777"/></svg>
<span class="t" style="top:548px;font-size:9.2px;color:#444;left:187.2px;transform:scaleX(0.918);transform-origin:0 0;">Summarize Time only</span>
<span class="t" style="top:583px;font-size:9.1px;color:#262626;left:124.7px;transform:scaleX(0.911);transform-origin:0 0;">Group By</span>
<svg style="left:164px;top:585px;" width="5.4" height="5.4" viewBox="0 0 5.4 5.4"><path d="M2.7 .3v4.8M.6 1.5l4.2 2.4M4.8 1.5L.6 3.9" stroke="#e8242a" stroke-width="1.15"/></svg>
<div style="left:181.2px;top:576.3px;width:74.8px;height:16.7px;box-sizing:border-box;border:1px solid #c3c3c3;border-radius:3px;background:linear-gradient(#fff 20%,#f3f3f3 60%,#ececec);box-shadow:0 1px 0 rgba(0,0,0,.04)"></div>
<div style="left:244px;top:577.3px;width:11px;height:14.7px;box-sizing:border-box;border-left:1px solid #c3c3c3;border-radius:0 2px 2px 0;background:linear-gradient(#eee,#d6d6d6)"></div>
<svg style="left:247.6px;top:583.65px;" width="5" height="4" viewBox="0 0 5 4"><path d="M.3 .3h4.4L2.5 3.6z" fill="#777"/></svg>
<span class="t" style="top:582px;font-size:9.2px;color:#444;left:187.2px;transform:scaleX(0.895);transform-origin:0 0;">Project</span>
<div style="left:268.3px;top:576.3px;width:74.7px;height:16.7px;box-sizing:border-box;border:1px solid #c3c3c3;border-radius:3px;background:linear-gradient(#fff 20%,#f3f3f3 60%,#ececec);box-shadow:0 1px 0 rgba(0,0,0,.04)"></div>
<div style="left:331.5px;top:577.3px;width:10.5px;height:14.7px;box-sizing:border-box;border-left:1px solid #c3c3c3;border-radius:0 2px 2px 0;background:linear-gradient(#eee,#d6d6d6)"></div>
<svg style="left:334.85px;top:583.65px;" width="5" height="4" viewBox="0 0 5 4"><path d="M.3 .3h4.4L2.5 3.6z" fill="#777"/></svg>
<span class="t" style="top:582px;font-size:9.2px;color:#444;left:274px;transform:scaleX(0.871);transform-origin:0 0;">User</span>
<span class="t" style="top:598px;font-size:8.8px;color:#262626;left:182px;transform:scaleX(0.873);transform-origin:0 0;">1st Order</span>
<span class="t" style="top:598px;font-size:8.8px;color:#262626;left:268.5px;transform:scaleX(0.896);transform-origin:0 0;">2nd Order</span>
<div style="left:181.4px;top:625px;width:8.2px;height:8.4px;box-sizing:border-box;border:1px solid #8f8f8f;background:linear-gradient(135deg,#dedede,#fafafa)"></div>
<span class="t" style="top:623px;font-size:9.1px;color:#262626;left:196px;transform:scaleX(0.939);transform-origin:0 0;">Group by user comments in addition to tasks</span>
<div style="left:36px;top:664px;width:668px;height:1px;background:#dedede"></div>
<span class="t" style="top:678px;font-size:14px;color:#0a0a0a;font-weight:700;letter-spacing:-0.12px;left:316.6px;">Report Filters</span>
<div style="left:35px;top:365px;width:670px;height:336px;box-sizing:border-box;border:1px solid #04044e"></div>
<div style="left:773px;top:370.3px;width:649px;height:1px;background:#ececec"></div>
<span class="t" style="top:372px;font-size:30.5px;color:#d8d8d8;left:777.8px;transform:scaleX(0.841);transform-origin:0 0;">INVOICE</span>
<span class="t" style="top:383px;font-size:7px;color:#707070;font-weight:700;letter-spacing:0.05px;left:1333.5px;">Invoice Number: 7577</span>
<span class="t" style="top:394px;font-size:7px;color:#707070;font-weight:700;letter-spacing:0.09px;left:1333.5px;">Invoice Date: 12/25/2013</span>
<span class="t" style="top:410px;font-size:7px;color:#777;font-weight:700;letter-spacing:0.01px;left:780.3px;">From:</span>
<span class="t" style="top:410px;font-size:7px;color:#777;font-weight:700;letter-spacing:0.06px;left:1104.8px;">To:</span>
<div style="left:787.5px;top:429.3px;width:309.3px;height:82.8px;box-sizing:border-box;border:1px solid #e2e2e2;border-radius:2px;background:#eeeeee"></div>
<div style="left:1104.7px;top:429.3px;width:309.3px;height:82.8px;box-sizing:border-box;border:1px solid #e2e2e2;border-radius:2px;background:#eeeeee"></div>
<span class="t" style="top:437px;font-size:6.4px;color:#222;font-weight:700;letter-spacing:0.11px;left:794.9px;">Amgen</span>
<span class="t" style="top:448px;font-size:6.4px;color:#3b3b3b;letter-spacing:-0.04px;left:794.9px;">Scott Fraser</span>
<span class="t" style="top:469px;font-size:6.4px;color:#3b3b3b;letter-spacing:-0.04px;left:794.9px;">1212 Amgen Way</span>
<span class="t" style="top:479px;font-size:6.4px;color:#3b3b3b;left:794.9px;transform:scaleX(0.95);transform-origin:0 0;">Casabalas</span>
<span class="t" style="top:490px;font-size:6.4px;color:#3b3b3b;left:794.9px;transform:scaleX(0.933);transform-origin:0 0;">CA 98889</span>
<span class="t" style="top:500px;font-size:6.4px;color:#3b3b3b;left:794.9px;transform:scaleX(0.888);transform-origin:0 0;">U.S.A.</span>
<span class="t" style="top:437px;font-size:6.4px;color:#222;font-weight:700;letter-spacing:0.16px;left:1112px;">MyClient Inc.</span>
<span class="t" style="top:448px;font-size:6.4px;color:#3b3b3b;letter-spacing:0.1px;left:1112px;">Steve Letterman</span>
<span class="t" style="top:469px;font-size:6.4px;color:#3b3b3b;letter-spacing:-0.04px;left:1112px;">929 Second Street</span>
<span class="t" style="top:479px;font-size:6.4px;color:#3b3b3b;letter-spacing:0.21px;left:1112px;">Portland</span>
<span class="t" style="top:490px;font-size:6.4px;color:#3b3b3b;left:1112px;transform:scaleX(0.937);transform-origin:0 0;">OR 97201</span>
<span class="t" style="top:500px;font-size:6.4px;color:#3b3b3b;left:1112px;transform:scaleX(0.9);transform-origin:0 0;">U. S. A.</span>
<span class="t" style="top:552px;font-size:6.8px;color:#7a7a7a;font-weight:700;left:780px;transform:scaleX(0.939);transform-origin:0 0;">NOTES</span>
<span class="t" style="top:567px;font-size:6.9px;color:#2c2c2c;left:780px;transform:scaleX(0.906);transform-origin:0 0;">HELLO. please do it.</span>
<span class="t" style="top:583px;font-size:6.8px;color:#7a7a7a;font-weight:700;letter-spacing:0.02px;left:780px;">SUMMARY</span>
<div style="left:780px;top:596.3px;width:633.5px;height:0.9px;background:#dddddd"></div>
<div style="left:780px;top:611.4px;width:633.5px;height:0.9px;background:#dddddd"></div>
<div style="left:780px;top:626.4px;width:633.5px;height:0.9px;background:#dddddd"></div>
<div style="left:780px;top:641.6px;width:633.5px;height:15.2px;background:#ededed"></div>
<span class="t" style="top:602px;font-size:6.9px;color:#3a3a3a;left:782.3px;transform:scaleX(0.841);transform-origin:0 0;">Jack Spear</span>
<span class="t" style="top:617px;font-size:6.9px;color:#3a3a3a;left:782.5px;transform:scaleX(0.941);transform-origin:0 0;">Helen Young</span>
<span class="t" style="top:632px;font-size:6.8px;color:#111;font-weight:700;letter-spacing:-0.05px;left:782.5px;">Grand Total</span>
<span class="t" style="top:645px;font-size:9.3px;color:#111;font-weight:700;left:782.5px;transform:scaleX(0.834);transform-origin:0 0;">PAYMENT TOTAL</span>
<span class="t" style="top:601px;font-size:7px;color:#555;left:1381px;transform:scaleX(0.875);transform-origin:0 0;">$11,333.33</span>
<span class="t" style="top:616px;font-size:7px;color:#555;left:1384.4px;transform:scaleX(0.86);transform-origin:0 0;">$1,266.67</span>
<span class="t" style="top:631px;font-size:7.2px;color:#111;font-weight:700;left:1379.6px;transform:scaleX(0.878);transform-origin:0 0;">$12,600.00</span>
<span class="t" style="top:645px;font-size:9.3px;color:#111;font-weight:700;left:1371px;transform:scaleX(0.864);transform-origin:0 0;">$12,600.00</span>
<span class="t" style="top:672px;font-size:14px;color:#0a0a0a;font-weight:700;left:1025.3px;">Invoice Based on Logged Time</span>
<div style="left:772px;top:367px;width:651px;height:334px;box-sizing:border-box;border:1px solid #04044e"></div>
</div></body></html>
